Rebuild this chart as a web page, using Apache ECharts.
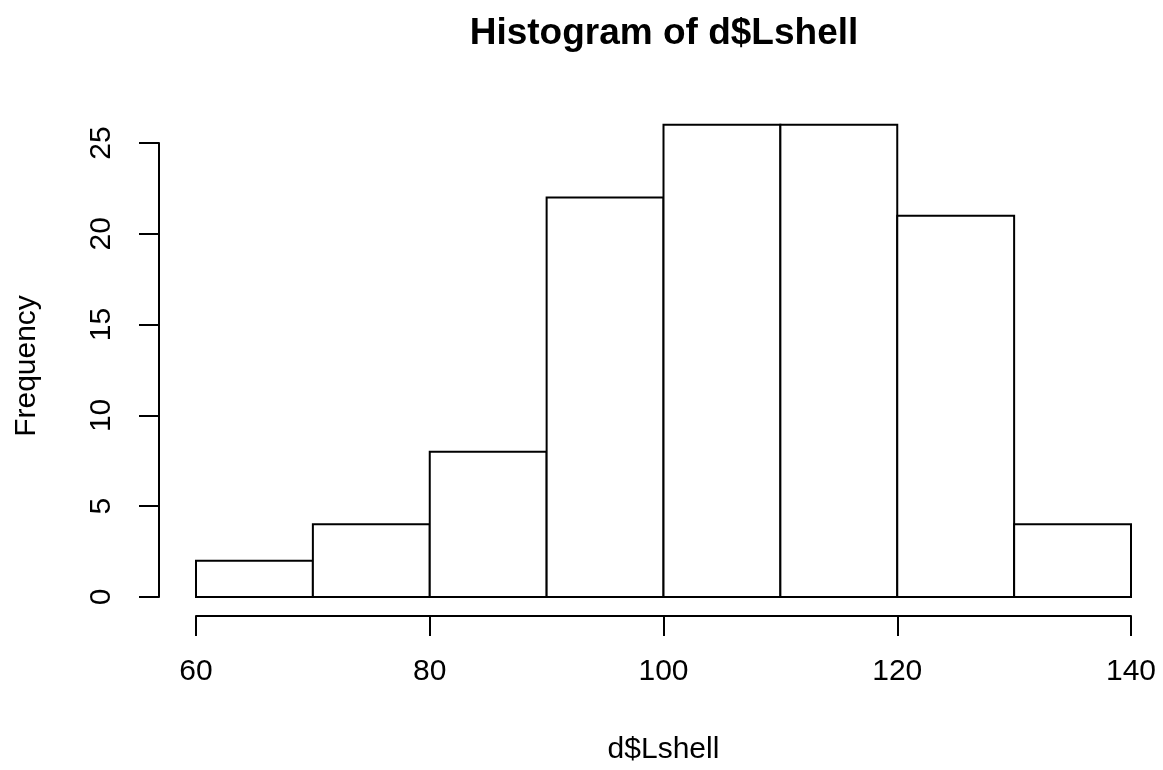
<!DOCTYPE html>
<html>
<head>
<meta charset="utf-8">
<script src="https://cdn.jsdelivr.net/npm/echarts@6/dist/echarts.min.js"></script>
<style>
  html, body { margin: 0; padding: 0; background: #fff; }
  #chart { width: 1163px; height: 770px; }
</style>
</head>
<body>
<div id="chart"></div>
<script>
// Histogram bins (left edges, width 10) and counts per bin
const binStarts = [60, 70, 80, 90, 100, 110, 120, 130];
const binWidth = 10;
const counts = [2, 4, 8, 22, 26, 26, 21, 4];

const titleText = 'Histogram of d$Lshell';
const xName = 'd$Lshell';
const yName = 'Frequency';

const FONT = "'Liberation Sans', Arial, Helvetica, sans-serif";
const INK = '#000000';

const bins = binStarts.map((s, i) => [s, s + binWidth, counts[i]]);

const chart = echarts.init(document.getElementById('chart'), null, { renderer: 'canvas' });

chart.setOption({
  backgroundColor: '#ffffff',
  animation: false,
  title: {
    text: titleText,
    left: 659,
    top: 10,
    textAlign: 'center',
    textStyle: { fontFamily: FONT, fontWeight: 'bold', fontSize: 37, color: INK }
  },
  grid: { left: 196, right: 32, top: 143, bottom: 172 },
  xAxis: {
    type: 'value',
    min: 60,
    max: 140,
    interval: 20,
    offset: 19,
    name: xName,
    nameLocation: 'middle',
    nameGap: 119,
    nameTextStyle: { fontFamily: FONT, fontSize: 30, color: INK },
    axisLine: { show: true, onZero: false, lineStyle: { color: INK, width: 2 } },
    axisTick: { show: true, length: 20, inside: false, lineStyle: { color: INK, width: 2 } },
    axisLabel: { show: true, margin: 41, fontFamily: FONT, fontSize: 30, color: INK },
    splitLine: { show: false }
  },
  yAxis: {
    type: 'value',
    min: 0,
    max: 25,
    interval: 5,
    offset: 37,
    name: yName,
    nameLocation: 'middle',
    nameRotate: 90,
    nameGap: 117,
    nameTextStyle: { fontFamily: FONT, fontSize: 30, color: INK, padding: [0, 0, 0, 8] },
    axisLine: { show: true, onZero: false, lineStyle: { color: INK, width: 2 } },
    axisTick: { show: true, length: 20, inside: false, lineStyle: { color: INK, width: 2 } },
    axisLabel: { show: true, rotate: 90, margin: 42, fontFamily: FONT, fontSize: 30, color: INK },
    splitLine: { show: false }
  },
  series: [{
    type: 'custom',
    clip: false,
    data: bins,
    encode: { x: [0, 1], y: 2 },
    renderItem: function (params, api) {
      const p0 = api.coord([api.value(0), api.value(2)]);
      const p1 = api.coord([api.value(1), 0]);
      return {
        type: 'rect',
        shape: { x: p0[0], y: p0[1], width: p1[0] - p0[0], height: p1[1] - p0[1] },
        style: { fill: '#ffffff', stroke: INK, lineWidth: 2 }
      };
    }
  }]
});
</script>
</body>
</html>
